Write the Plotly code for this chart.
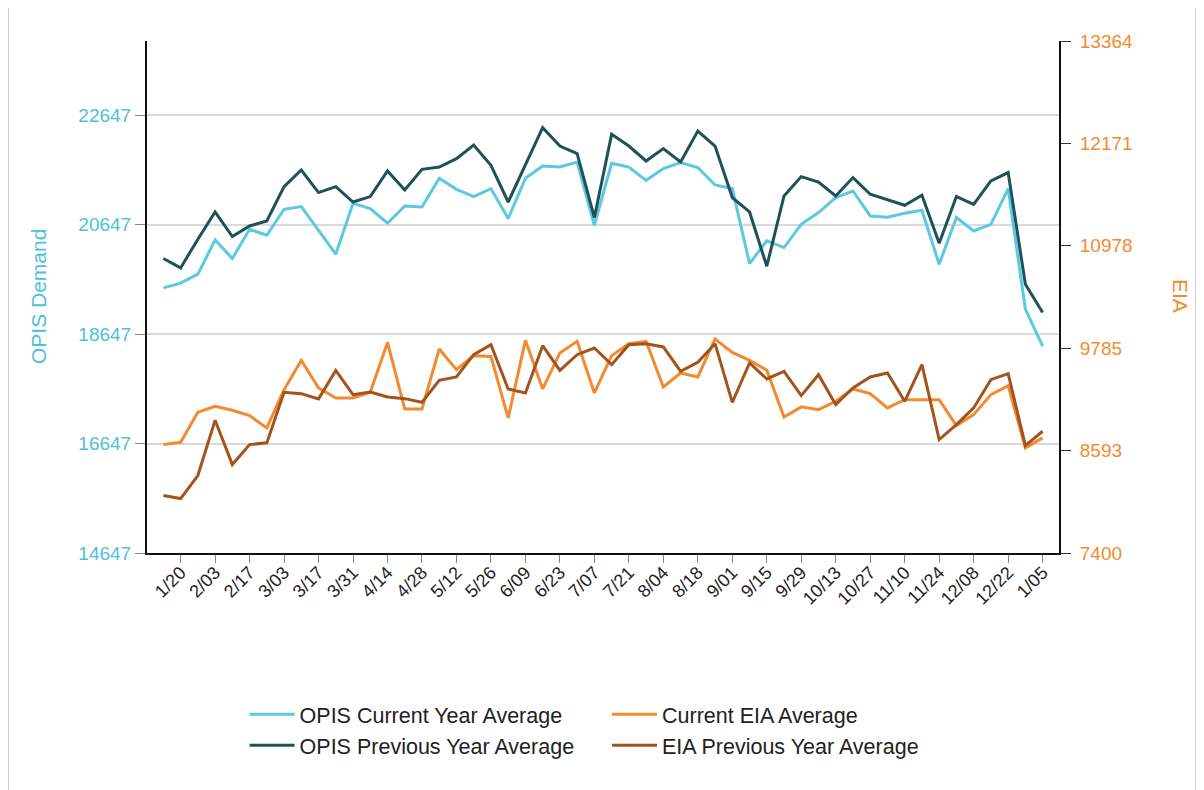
import plotly.graph_objects as go

weeks = ["1/13", "1/20", "1/27", "2/03", "2/10", "2/17", "2/24", "3/03", "3/10", "3/17",
         "3/24", "3/31", "4/07", "4/14", "4/21", "4/28", "5/05", "5/12", "5/19", "5/26",
         "6/02", "6/09", "6/16", "6/23", "6/30", "7/07", "7/14", "7/21", "7/28", "8/04",
         "8/11", "8/18", "8/25", "9/01", "9/08", "9/15", "9/22", "9/29", "10/06", "10/13",
         "10/20", "10/27", "11/03", "11/10", "11/17", "11/24", "12/01", "12/08", "12/15", "12/22",
         "12/29", "1/05"]

opis_current = [19490, 19576, 19740, 20366, 20027, 20561, 20452, 20926, 20975, 20540,
                20105, 21036, 20939, 20671, 20987, 20968, 21492, 21291, 21158, 21304,
                20757, 21492, 21717, 21698, 21789, 20634, 21766, 21698, 21455, 21669,
                21778, 21687, 21370, 21304, 19935, 20348, 20227, 20652, 20866, 21140,
                21260, 20804, 20780, 20853, 20908, 19922, 20775, 20530, 20652, 21304,
                19101, 18426]

opis_previous = [20027, 19855, 20379, 20877, 20428, 20621, 20713, 21340, 21643, 21231,
                 21340, 21059, 21158, 21625, 21278, 21656, 21698, 21850, 22100, 21729,
                 21059, 21742, 22417, 22081, 21943, 20775, 22295, 22081, 21808, 22034,
                 21789, 22355, 22081, 21140, 20877, 19885, 21169, 21523, 21424, 21169,
                 21505, 21200, 21096, 20999, 21182, 20306, 21158, 21017, 21443, 21596,
                 19557, 19041]

eia_current = [8663, 8690, 9039, 9109, 9062, 9000, 8857, 9303, 9644, 9323,
               9206, 9206, 9272, 9853, 9078, 9078, 9776, 9536, 9699, 9690,
               8973, 9877, 9311, 9730, 9865, 9264, 9699, 9838, 9865, 9334,
               9497, 9451, 9893, 9737, 9644, 9530, 8985, 9102, 9070, 9167,
               9311, 9256, 9090, 9186, 9186, 9186, 8884, 9012, 9245, 9349,
               8624, 8741]

eia_previous = [8069, 8034, 8302, 8946, 8430, 8663, 8683, 9272, 9256, 9195,
                9527, 9245, 9276, 9218, 9198, 9155, 9411, 9451, 9710, 9827,
                9311, 9264, 9815, 9527, 9710, 9788, 9594, 9827, 9838, 9800,
                9516, 9621, 9838, 9155, 9614, 9427, 9516, 9233, 9477, 9128,
                9323, 9451, 9497, 9167, 9594, 8721, 8896, 9090, 9419, 9489,
                8651, 8818]

left_ticks = [14647, 16647, 18647, 20647, 22647]
right_ticks = [7400, 8593, 9785, 10978, 12171, 13364]

FONT = "Liberation Sans, Arial, sans-serif"
CYAN = "#5cc8e4"
TEAL = "#1e5257"
ORANGE = "#f28a30"
BROWN = "#a3531b"

fig = go.Figure()
fig.add_trace(go.Scatter(x=weeks, y=opis_current, name="OPIS Current Year Average",
                         mode="lines", line=dict(color=CYAN, width=3),
                         legend="legend", legendgroup="a"))
fig.add_trace(go.Scatter(x=weeks, y=opis_previous, name="OPIS Previous Year Average",
                         mode="lines", line=dict(color=TEAL, width=3),
                         legend="legend", legendgroup="b"))
fig.add_trace(go.Scatter(x=weeks, y=eia_current, name="Current EIA Average",
                         mode="lines", line=dict(color=ORANGE, width=3), yaxis="y2",
                         legend="legend2", legendgroup="c"))
fig.add_trace(go.Scatter(x=weeks, y=eia_previous, name="EIA Previous Year Average",
                         mode="lines", line=dict(color=BROWN, width=3), yaxis="y2",
                         legend="legend2", legendgroup="d"))

# page body has an 8px margin, so the figure is drawn 8px short on each side
fig.update_layout(
    width=1196, height=782,
    margin=dict(l=139, r=145, t=33, b=237),
    paper_bgcolor="white", plot_bgcolor="white",
    font=dict(family=FONT, size=19, color="#222222"),
    xaxis=dict(type="category", range=[-0.95, 51.95],
               tickvals=weeks[1::2], ticktext=weeks[1::2], tickangle=-45,
               tickfont=dict(size=18, color="#222222"), ticklabelstandoff=-8,
               ticks="outside", ticklen=8, tickcolor="#888888",
               showline=True, linecolor="#111111", linewidth=2,
               showgrid=False, zeroline=False),
    yaxis=dict(range=[14647, 24000], tickvals=left_ticks,
               ticktext=[str(v) for v in left_ticks],
               tickfont=dict(size=19, color="#4fc0dc"),
               ticks="outside", ticklen=10, tickcolor="#888888",
               showline=True, linecolor="#111111", linewidth=2,
               showgrid=True, gridcolor="#dadada", gridwidth=2, zeroline=False),
    yaxis2=dict(range=[7400, 13364], tickvals=right_ticks,
                ticktext=[str(v) for v in right_ticks],
                overlaying="y", side="right",
                tickfont=dict(size=19, color=ORANGE), ticklabelstandoff=5,
                ticks="outside", ticklen=10, tickcolor="#333333",
                showline=True, linecolor="#111111", linewidth=2,
                showgrid=False, zeroline=False),
    legend=dict(x=0.107, y=-0.275, xanchor="left", yanchor="top", itemwidth=45,
                font=dict(size=21.5, color="#222222"), tracegroupgap=0,
                bgcolor="rgba(0,0,0,0)"),
    legend2=dict(x=0.5044, y=-0.275, xanchor="left", yanchor="top", itemwidth=45,
                 font=dict(size=21.5, color="#222222"), tracegroupgap=0,
                 bgcolor="rgba(0,0,0,0)"),
    annotations=[
        dict(text="OPIS Demand", xref="paper", yref="paper", x=-0.1195, y=0.5,
             xanchor="center", yanchor="middle",
             textangle=-90, showarrow=False, font=dict(size=21, color="#4fc0dc")),
        dict(text="EIA", xref="paper", yref="paper", x=1.1327, y=0.502,
             xanchor="center", yanchor="middle",
             textangle=90, showarrow=False, font=dict(size=21, color=ORANGE)),
    ],
    shapes=[
        dict(type="line", xref="paper", yref="paper", x0=-0.1524, x1=-0.1524,
             y0=-0.47, y1=1.09, line=dict(color="#d0d0d0", width=2)),
        dict(type="line", xref="paper", yref="paper", x0=1.1502, x1=1.1502,
             y0=-0.47, y1=1.09, line=dict(color="#d0d0d0", width=2)),
    ],
    showlegend=True,
)

fig.write_html("out.html")
